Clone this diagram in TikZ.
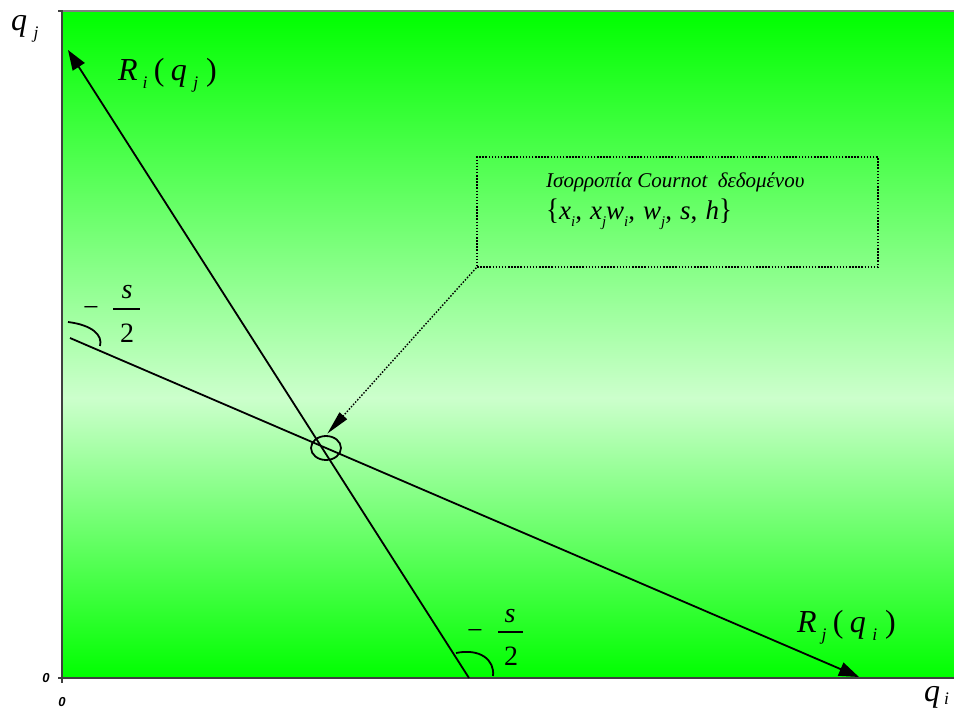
\documentclass[tikz,border=0pt]{standalone}
\usepackage{fontspec}
\usepackage{graphicx}
\setmainfont{Liberation Serif}
\newfontfamily\zerofont{Liberation Sans}
\usetikzlibrary{arrows.meta,shapes.geometric}
\definecolor{G}{HTML}{00FF00}
\definecolor{L}{HTML}{CCFFCC}
\definecolor{axisgray}{HTML}{404040}
\pgfdeclareverticalshading{bgshade}{100bp}{color(0bp)=(G); color(25bp)=(G); color(46bp)=(L); color(75bp)=(G); color(100bp)=(G)}
\newcommand{\lo}[1]{\raisebox{-0.28em}{\scalebox{0.55}{#1}}}
\newcommand{\loq}[1]{\raisebox{-0.12em}{\scalebox{0.55}{#1}}}
\newcommand{\up}[1]{{\upshape #1}}
\newcommand{\cm}{\up{,}\hspace{0.3em}}
\tikzset{
  mainline/.style={line width=1.8pt, -{Triangle[length=20pt,width=14pt]}},
  dotline/.style={line width=1.4pt, dash pattern=on 1.5pt off 1.6pt},
  bigtxt/.style={font=\fontsize{32}{32}\selectfont\itshape, inner sep=0pt, anchor=base west},
  fractxt/.style={font=\fontsize{28}{28}\selectfont, inner sep=0pt, anchor=base},
  zerotxt/.style={font=\zerofont\bfseries\itshape\fontsize{13}{13}\selectfont, inner sep=0pt},
  arcline/.style={line width=1.8pt},
}
\begin{document}
\begin{tikzpicture}[x=1pt,y=-1pt]
\useasboundingbox (0,0) rectangle (954,713);
% background
\shade[shading=bgshade] (62,11) rectangle (954,678);
\draw[gray, line width=1.5pt] (62,11) -- (954,11);
% axes
\draw[axisgray, line width=1.4pt] (58,11) -- (62,11) -- (62,683);
\draw[axisgray, line width=1.4pt] (58,678) -- (954,678);
% axis labels
\node[bigtxt] (qj) at (11,30) {q\hspace{0.2em}\lo{j}};
\node[bigtxt] (qi) at (924,701) {q\hspace{0.12em}\loq{i}};
\node[zerotxt] (z1) at (46,678) {0};
\node[zerotxt] (z2) at (62,702) {0};
% reaction functions
\coordinate (RiA) at (469,678);
\coordinate (RiB) at (68,50);
\coordinate (RjA) at (70,338);
\coordinate (RjB) at (859,677);
\draw[mainline] (RiA) -- (RiB);
\draw[mainline] (RjA) -- (RjB);
\node[bigtxt] (Ri) at (118,80) {R\hspace{0.15em}\lo{i}\hspace{0.2em}\up{(}\hspace{0.2em}q\hspace{0.2em}\lo{j}\hspace{0.25em}\up{)}};
\node[bigtxt] (Rj) at (797,632) {R\hspace{0.15em}\lo{j}\hspace{0.2em}\up{(}\hspace{0.2em}q\hspace{0.2em}\lo{i}\hspace{0.25em}\up{)}};
% angle marks
\draw[arcline] (68,322) .. controls (92,325) and (103,335) .. (100,346);
\draw[arcline] (456,653) .. controls (480,648) and (495,660) .. (493,676);
% slope labels
\node[fractxt] (m1) at (91,316) {−};
\node[fractxt] (s1) at (127,298) {\itshape s};
\node[fractxt] (d1) at (127,342) {2};
\draw[line width=1.2pt] (113,309) -- (140,309);
\node[fractxt] (m2) at (475,639) {−};
\node[fractxt] (s2) at (510,622) {\itshape s};
\node[fractxt] (d2) at (511,665) {2};
\draw[line width=1.2pt] (498,632) -- (523,632);
% equilibrium
\node[draw, ellipse, line width=1.8pt, minimum width=30pt, minimum height=24pt, inner sep=0pt] (eq) at (326,448) {};
\node[draw, dotline, minimum width=401pt, minimum height=110pt, inner sep=0pt] (box) at (677.5,212) {};
\node[font=\fontsize{21}{21}\selectfont\itshape, inner sep=0pt, anchor=base west] (t1) at (546,187) {Ισορροπία Cournot\ \ δεδομένου};
\node[font=\fontsize{27}{27}\selectfont\itshape, inner sep=0pt, anchor=base west] (t2) at (546,219) {\up{\scalebox{1}[1.1]{\{}}x\lo{i}\cm x\lo{j}w\lo{i}\cm w\lo{j}\cm s\cm h\up{\scalebox{1}[1.1]{\}}}};
\draw[dotline, -{Triangle[length=24pt,width=10pt]}, shorten >=2pt] (box.south west) -- (eq.north);
\end{tikzpicture}
\end{document}
